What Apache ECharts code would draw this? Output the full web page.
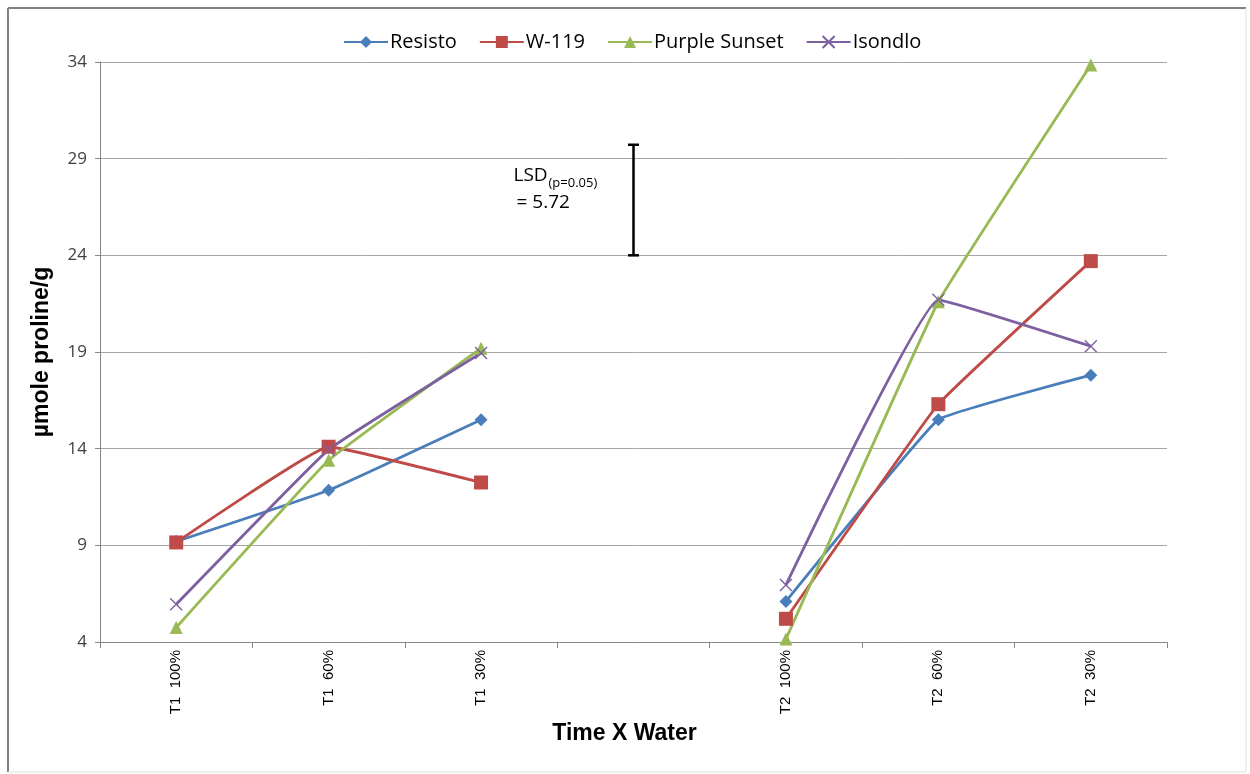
<!DOCTYPE html>
<html>
<head>
<meta charset="utf-8">
<script src="https://cdn.jsdelivr.net/npm/echarts@6/dist/echarts.min.js"></script>
<style>
  html, body { margin: 0; padding: 0; background: #ffffff; }
  #chart { width: 1250px; height: 774px; }
</style>
</head>
<body>
<div id="chart"></div>
<script>
// Categories along the x axis (one empty slot separates the two times)
const categories = ['T1  100%', 'T1  60%', 'T1  30%', '', 'T2  100%', 'T2  60%', 'T2  30%'];

// Proline content (µmole/g) for each cultivar
const resisto      = [9.2, 11.85, 15.5, null, 6.1, 15.5, 17.8];
const w119         = [9.15, 14.1, 12.25, null, 5.2, 16.3, 23.7];
const purpleSunset = [4.75, 13.4, 19.2, null, 4.15, 21.6, 33.85];
const isondlo      = [5.95, 13.95, 18.95, null, 6.95, 21.7, 19.3];

// Least significant difference bar, drawn in the empty slot
const lsdCategory = '';
const lsdBase = 24;
const lsdValue = 5.72;

// Y axis ticks
const yMin = 4;
const yMax = 34;
const yStep = 5;

const colors = {
  resisto: '#4a7ebb',
  w119: '#be4b48',
  purpleSunset: '#98b954',
  isondlo: '#7d60a0'
};

const chart = echarts.init(document.getElementById('chart'), null, { renderer: 'canvas' });

function lineSeries(name, data, color, symbol, size, extra) {
  return Object.assign({
    name: name,
    type: 'line',
    data: data,
    connectNulls: false,
    smooth: 0.08,
    symbol: symbol,
    symbolSize: size,
    lineStyle: { color: color, width: 2.8 },
    itemStyle: { color: color },
    z: 3
  }, extra || {});
}

const option = {
  backgroundColor: '#ffffff',
  animation: false,
  grid: { left: 100, right: 83, top: 62, bottom: 132, containLabel: false },
  legend: {
    data: ['Resisto', 'W-119', 'Purple Sunset', 'Isondlo'],
    top: 27,
    left: 338,
    itemWidth: 44,
    itemHeight: 15,
    itemGap: 22,
    textStyle: { fontFamily: 'Open Sans', fontSize: 20, color: '#000000', padding: [0, 0, 0, -3] }
  },
  xAxis: {
    type: 'category',
    data: categories,
    boundaryGap: true,
    name: 'Time X Water',
    nameLocation: 'middle',
    nameGap: 71,
    nameTextStyle: { fontFamily: 'Liberation Sans', fontWeight: 'bold', fontSize: 23, color: '#000000', padding: [0, 18, 0, 0] },
    axisLine: { lineStyle: { color: '#868686', width: 1 } },
    axisTick: { show: true, length: 6, lineStyle: { color: '#868686' }, interval: 0 },
    axisLabel: {
      rotate: 90,
      interval: 0,
      margin: 8,
      fontFamily: 'Liberation Sans',
      fontSize: 15,
      color: '#000000'
    },
    splitLine: { show: false }
  },
  yAxis: {
    type: 'value',
    min: yMin,
    max: yMax,
    interval: yStep,
    name: 'µmole proline/g',
    nameLocation: 'middle',
    nameGap: 47,
    nameRotate: 90,
    nameTextStyle: { fontFamily: 'Liberation Sans', fontWeight: 'bold', fontSize: 23, color: '#000000' },
    axisLine: { show: true, lineStyle: { color: '#868686', width: 1 } },
    axisTick: { show: true, length: 5, lineStyle: { color: '#868686' } },
    axisLabel: { fontFamily: 'Open Sans', fontSize: 17, color: '#404040', margin: 13 },
    splitLine: { show: true, lineStyle: { color: '#a6a6a6', width: 1 } }
  },
  graphic: [
    { type: 'line', shape: { x1: 8, y1: 8, x2: 8, y2: 772 }, style: { stroke: '#808080', lineWidth: 2 } },
    { type: 'line', shape: { x1: 8, y1: 8, x2: 1246, y2: 8 }, style: { stroke: '#808080', lineWidth: 2 } },
    { type: 'line', shape: { x1: 1246, y1: 8, x2: 1246, y2: 772 }, style: { stroke: '#e0e0e0', lineWidth: 1 } },
    { type: 'line', shape: { x1: 8, y1: 772, x2: 1246, y2: 772 }, style: { stroke: '#e0e0e0', lineWidth: 1 } }
  ],
  series: [
    lineSeries('Resisto', resisto, colors.resisto, 'diamond', 13),
    lineSeries('W-119', w119, colors.w119, 'rect', 14),
    lineSeries('Purple Sunset', purpleSunset, colors.purpleSunset, 'triangle', 13),
    lineSeries('Isondlo', isondlo, colors.isondlo, 'path://M0,0L10,10M10,0L0,10', 12, {
      itemStyle: { color: colors.isondlo, borderColor: colors.isondlo, borderWidth: 1.4 }
    }),
    {
      name: 'LSD',
      type: 'custom',
      data: [[lsdCategory, lsdBase, lsdBase + lsdValue]],
      encode: { x: 0, y: [1, 2] },
      z: 5,
      renderItem: function (params, api) {
        const idx = api.value(0);
        const low = api.coord([idx, api.value(1)]);
        const high = api.coord([idx, api.value(2)]);
        const x = low[0];
        const cap = 5.5;
        const stroke = { stroke: '#000000', lineWidth: 2.5 };
        return {
          type: 'group',
          children: [
            { type: 'line', shape: { x1: x, y1: low[1], x2: x, y2: high[1] }, style: stroke },
            { type: 'line', shape: { x1: x - cap, y1: low[1], x2: x + cap, y2: low[1] }, style: stroke },
            { type: 'line', shape: { x1: x - cap, y1: high[1], x2: x + cap, y2: high[1] }, style: stroke },
            { type: 'text', style: { x: x - 120, y: high[1] + 31, text: 'LSD', fill: '#000000', font: '19px "Open Sans"', verticalAlign: 'middle', align: 'left' } },
            { type: 'text', style: { x: x - 85, y: high[1] + 39, text: '(p=0.05)', fill: '#000000', font: '13px "Open Sans"', verticalAlign: 'middle', align: 'left' } },
            { type: 'text', style: { x: x - 117, y: high[1] + 58, text: '= ' + lsdValue.toFixed(2), fill: '#000000', font: '19px "Open Sans"', verticalAlign: 'middle', align: 'left' } }
          ]
        };
      }
    }
  ]
};

chart.setOption(option);
</script>
</body>
</html>
